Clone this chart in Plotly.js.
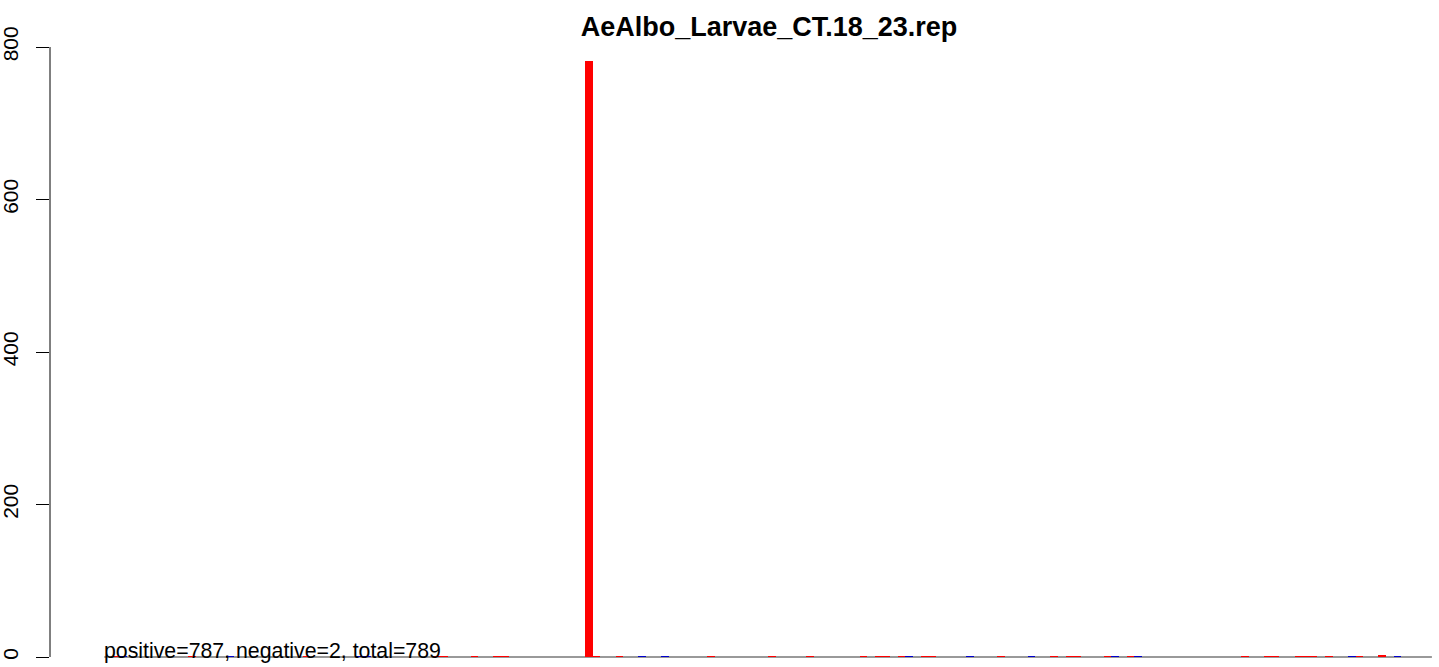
<!DOCTYPE html>
<html>
<head>
<meta charset="utf-8">
<script src="https://cdn.plot.ly/plotly-3.0.1.min.js"></script>
<style>html,body{margin:0;padding:0;background:#fff;}#chart{width:1439px;height:667px;}</style>
</head>
<body>
<div id="chart"></div>
<script>
// Chart data (bar positions are bar indices 0..173)
var chartTitle = "AeAlbo_Larvae_CT.18_23.rep";
var nBars = 174;
var positivePos = [1, 11, 26, 43, 44, 48, 51, 52, 63, 64, 67, 79, 87, 92, 99, 101, 102, 104, 107, 108, 117, 124, 126, 127, 131, 134, 149, 152, 153, 156, 157, 158, 160, 164, 167];
var positiveVal = [1.5, 1.5, 1.5, 1.5, 1.5, 1.5, 1.5, 1.5, 781, 1.5, 1.5, 1.5, 1.5, 1.5, 1.5, 1.5, 1.5, 1.5, 1.5, 1.5, 1.5, 1.5, 1.5, 1.5, 1.5, 1.5, 1.5, 1.5, 1.5, 1.5, 1.5, 1.5, 1.5, 1.5, 3];
var negativePos = [2, 16, 33, 34, 70, 73, 105, 113, 121, 132, 135, 163, 169];
var negativeVal = [1.5, 1.5, 1.5, 1.5, 1.5, 1.5, 1.5, 1.5, 1.5, 1.5, 1.5, 1.5, 1.5];
var yTicks = [0, 200, 400, 600, 800];
var summaryText = "positive=787, negative=2, total=789";

var font = "Liberation Sans, Arial, Helvetica, sans-serif";

var traces = [
  {type: "bar", x: positivePos, y: positiveVal, width: 1, marker: {color: "#ff0000", line: {width: 0}}, hoverinfo: "x+y"},
  {type: "bar", x: negativePos, y: negativeVal, width: 1, marker: {color: "#0000cd", line: {width: 0}}, hoverinfo: "x+y"}
];

var layout = {
  width: 1439, height: 667,
  margin: {l: 50, r: 0, t: 40, b: 0, pad: 0},
  paper_bgcolor: "#fff", plot_bgcolor: "#fff",
  barmode: "overlay", bargap: 0,
  showlegend: false,
  title: {text: chartTitle, font: {family: font, size: 27, color: "#000", weight: "bold"},
          x: 0.5344, xref: "container", xanchor: "center", y: 1 - 27/667, yref: "container", yanchor: "middle"},
  xaxis: {range: [-7.615, 174.43], visible: false, fixedrange: true},
  yaxis: {range: [-13.11, 809.18], showgrid: false, zeroline: false, showline: false,
          tickmode: "array", tickvals: yTicks, ticktext: yTicks.map(String),
          ticks: "outside", ticklen: 13, tickwidth: 1, tickcolor: "#000", ticklabelstandoff: 10,
          tickangle: -90, tickfont: {family: font, size: 21, color: "#000"}, fixedrange: true},
  shapes: [
    {type: "line", xref: "paper", x0: 0, x1: 0, yref: "y", y0: 0, y1: yTicks[yTicks.length-1], line: {color: "#000", width: 1}},
    {type: "line", xref: "x", x0: -0.5, x1: nBars - 0.5, yref: "y", y0: 0, y1: 0, line: {color: "#999999", width: 2}, layer: "below"}
  ],
  annotations: [
    {text: summaryText, xref: "x", x: -0.72, xanchor: "left", yref: "y", y: 8, yanchor: "middle",
     showarrow: false, font: {family: font, size: 21.3, color: "#000"}, borderpad: 0}
  ]
};

Plotly.newPlot("chart", traces, layout, {displayModeBar: false, staticPlot: true});
</script>
</body>
</html>
